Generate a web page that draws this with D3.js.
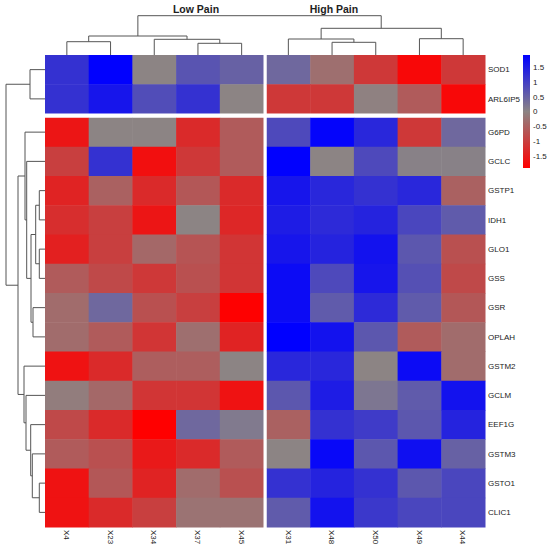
<!DOCTYPE html>
<html>
<head>
<meta charset="utf-8">
<title>Heatmap</title>
<script src="https://cdn.jsdelivr.net/npm/d3@7"></script>
<style>
  body { margin: 0; background: #fff; }
  text { font-family: "Liberation Sans", Arial, sans-serif; fill: #222; }
  .dendro { fill: none; stroke: #555; stroke-width: 1; }
</style>
</head>
<body>
<script>
// ---- data ----
var cols = ["X4", "X23", "X34", "X37", "X45", "X31", "X48", "X50", "X49", "X44"];
var rows = ["SOD1", "ARL6IP5", "G6PD", "GCLC", "GSTP1", "IDH1", "GLO1", "GSS",
            "GSR", "OPLAH", "GSTM2", "GCLM", "EEF1G", "GSTM3", "GSTO1", "CLIC1"];
var groups = ["Low Pain", "High Pain"];

// z-scores, one array per row, in column order above
var z = [
  [ 1.2,  1.9,  0.0,  0.7,  0.5,   0.4, -0.3, -1.1, -1.8, -1.1],
  [ 1.2,  1.6,  0.8,  1.2,  0.0,  -1.1, -1.1, -0.05, -0.6, -1.8],
  [-1.6,  0.0,  0.0, -1.3, -0.6,   0.85, 1.85, 1.35, -1.1, 0.4],
  [-1.0,  1.2, -1.7, -1.1, -0.6,   1.9,  0.0,  0.85, 0.05, 0.05],
  [-1.4, -0.5, -1.3, -0.65, -1.3,  1.6,  1.35, 1.2,  1.35, -0.5],
  [-1.25, -1.0, -1.6, 0.0, -1.35,  1.5,  1.3,  1.4,  0.9,  0.6],
  [-1.45, -1.0, -0.4, -0.7, -1.15, 1.6,  1.4,  1.65, 0.65, -0.75],
  [-0.6, -0.85, -1.1, -0.75, -1.15, 1.75, 0.85, 1.6, 0.75, -0.85],
  [-0.35, 0.4, -0.75, -1.0, -1.9,  1.75, 0.6,  1.3,  0.6, -0.65],
  [-0.35, -0.6, -1.15, -0.3, -1.4, 1.95, 1.65, 0.65, -0.6, -0.35],
  [-1.65, -1.3, -0.55, -0.55, 0.0, 1.35, 1.35, 0.0,  1.75, -0.35],
  [-0.1, -0.4, -1.15, -1.15, -1.65, 0.65, 1.5, 0.2,  0.6,  1.65],
  [-0.85, -1.3, -1.95, 0.4, 0.15, -0.5,  1.2,  1.05, 0.65, 1.4],
  [-0.6, -0.75, -1.55, -1.3, -0.6,  0.0,  1.8,  0.65, 1.7,  0.5],
  [-1.65, -0.65, -1.4, -0.35, -0.75, 1.2, 1.4,  1.2,  0.65, 0.9],
  [-1.65, -1.3, -1.0, -0.25, -0.25, 0.6,  1.65, 1.1,  0.9,  0.9]
];

// hclust-style merges: [left, right, height]; numbers refer to earlier merges
var colMerges = [
  ["X4", "X23", 13.3],
  ["X37", "X45", 11.7],
  ["X34", 1, 15.7],
  [0, 2, 19],
  ["X48", "X50", 12.7],
  ["X31", 4, 16],
  ["X49", "X44", 16.3],
  [5, 6, 26.7],
  [3, 7, 39.3]
];
var rowMerges = [
  ["SOD1", "ARL6IP5", 15],
  ["GSTP1", "IDH1", 5.7],
  ["GLO1", "GSS", 5.7],
  [1, 2, 9.3],
  ["GSR", "OPLAH", 12],
  [3, 4, 14],
  ["GCLC", 5, 18.3],
  ["G6PD", 6, 20],
  ["GSTO1", "CLIC1", 5.7],
  ["GSTM3", 8, 12.7],
  ["EEF1G", 9, 14.3],
  ["GCLM", 10, 19],
  ["GSTM2", 11, 21],
  [7, 12, 27],
  [0, 13, 39]
];
var legendTicks = [1.5, 1, 0.5, 0, -0.5, -1, -1.5];

// ---- layout ----
var W = 550, H = 549;
var mLeft = 45, mRight = 485, mTop = 55, mBottom = 527;
var colGap = 3, rowGap = 4, colSplit = 5, rowSplit = 2;

var svg = d3.select("body").append("svg").attr("width", W).attr("height", H);

var xb = d3.scaleBand().domain(cols).range([mLeft, mRight - colGap]);
var yb = d3.scaleBand().domain(rows).range([mTop, mBottom - rowGap]);
function cx(c) { return xb(c) + (cols.indexOf(c) >= colSplit ? colGap : 0); }
function ry(r) { return yb(r) + (rows.indexOf(r) >= rowSplit ? rowGap : 0); }

var zmax = 1.91;
var color = d3.scaleLinear().domain([-zmax, 0, zmax])
  .range(["#ff0000", "#8c8484", "#0000ff"]).clamp(true);

// cells
var cells = [];
rows.forEach(function(r, i) {
  cols.forEach(function(c, j) { cells.push({r: r, c: c, v: z[i][j]}); });
});
svg.append("g").selectAll("rect").data(cells).enter().append("rect")
  .attr("x", function(d) { return cx(d.c); })
  .attr("y", function(d) { return ry(d.r); })
  .attr("width", xb.bandwidth() + 0.5)
  .attr("height", yb.bandwidth() + 0.5)
  .attr("fill", function(d) { return color(d.v); });

// redraw gaps white so half-pixel overlaps don't bleed
svg.append("rect").attr("x", cx(cols[colSplit]) - colGap).attr("y", mTop)
  .attr("width", colGap).attr("height", mBottom - mTop + 1).attr("fill", "#fff");
svg.append("rect").attr("x", mLeft).attr("y", ry(rows[rowSplit]) - rowGap)
  .attr("width", mRight - mLeft + 1).attr("height", rowGap).attr("fill", "#fff");

// dendrograms
function buildSegs(merges, leafPos) {
  var nodes = [];
  var segs = [];
  function get(k) {
    if (typeof k === "string") return {p: leafPos(k), h: 0};
    return nodes[k];
  }
  merges.forEach(function(m) {
    var a = get(m[0]), b = get(m[1]), h = m[2];
    segs.push({a: a, b: b, h: h});
    nodes.push({p: (a.p + b.p) / 2, h: h});
  });
  return segs;
}

var colH = d3.scaleLinear().domain([0, 39.3]).range([mTop, 15.7]);
var colSegs = buildSegs(colMerges, function(c) { return cx(c) + xb.bandwidth() / 2; });
svg.append("g").selectAll("path").data(colSegs).enter().append("path")
  .attr("class", "dendro")
  .attr("d", function(s) {
    return "M" + s.a.p + "," + colH(s.a.h) + "V" + colH(s.h) +
           "H" + s.b.p + "V" + colH(s.b.h);
  });

var rowH = d3.scaleLinear().domain([0, 39]).range([mLeft, 6]);
var rowSegs = buildSegs(rowMerges, function(r) { return ry(r) + yb.bandwidth() / 2; });
svg.append("g").selectAll("path").data(rowSegs).enter().append("path")
  .attr("class", "dendro")
  .attr("d", function(s) {
    return "M" + rowH(s.a.h) + "," + s.a.p + "H" + rowH(s.h) +
           "V" + s.b.p + "H" + rowH(s.b.h);
  });

// group titles
svg.selectAll(".grp").data(groups).enter().append("text")
  .attr("class", "grp")
  .attr("x", function(d, i) { return i === 0 ? 196 : 334; })
  .attr("y", 12.5)
  .attr("text-anchor", "middle")
  .attr("font-size", 10.5)
  .attr("font-weight", "bold")
  .text(function(d) { return d; });

// row labels
svg.selectAll(".rlab").data(rows).enter().append("text")
  .attr("class", "rlab")
  .attr("x", mRight + 3)
  .attr("y", function(r) { return ry(r) + yb.bandwidth() / 2; })
  .attr("dy", "0.35em")
  .attr("font-size", 8)
  .text(function(r) { return r; });

// column labels, rotated
svg.selectAll(".clab").data(cols).enter().append("text")
  .attr("class", "clab")
  .attr("transform", function(c) {
    return "translate(" + (cx(c) + xb.bandwidth() / 2) + "," + (mBottom + 3) + ") rotate(90)";
  })
  .attr("dy", "0.35em")
  .attr("font-size", 8)
  .text(function(c) { return c; });

// colour legend
var lx = 523, lw = 7, ltop = 55, lbot = 168;
var ly = d3.scaleLinear().domain([zmax, -zmax]).range([ltop, lbot]);
var grad = svg.append("defs").append("linearGradient")
  .attr("id", "lg").attr("x1", 0).attr("y1", 0).attr("x2", 0).attr("y2", 1);
grad.selectAll("stop").data([zmax, 0, -zmax]).enter().append("stop")
  .attr("offset", function(d, i) { return i / 2; })
  .attr("stop-color", function(d) { return color(d); });
svg.append("rect").attr("x", lx).attr("y", ltop).attr("width", lw)
  .attr("height", lbot - ltop).attr("fill", "url(#lg)");
svg.selectAll(".ltick").data(legendTicks).enter().append("text")
  .attr("class", "ltick")
  .attr("x", lx + lw + 3)
  .attr("y", function(d) { return ly(d); })
  .attr("dy", "0.35em")
  .attr("font-size", 8)
  .text(function(d) { return d; });
</script>
</body>
</html>
